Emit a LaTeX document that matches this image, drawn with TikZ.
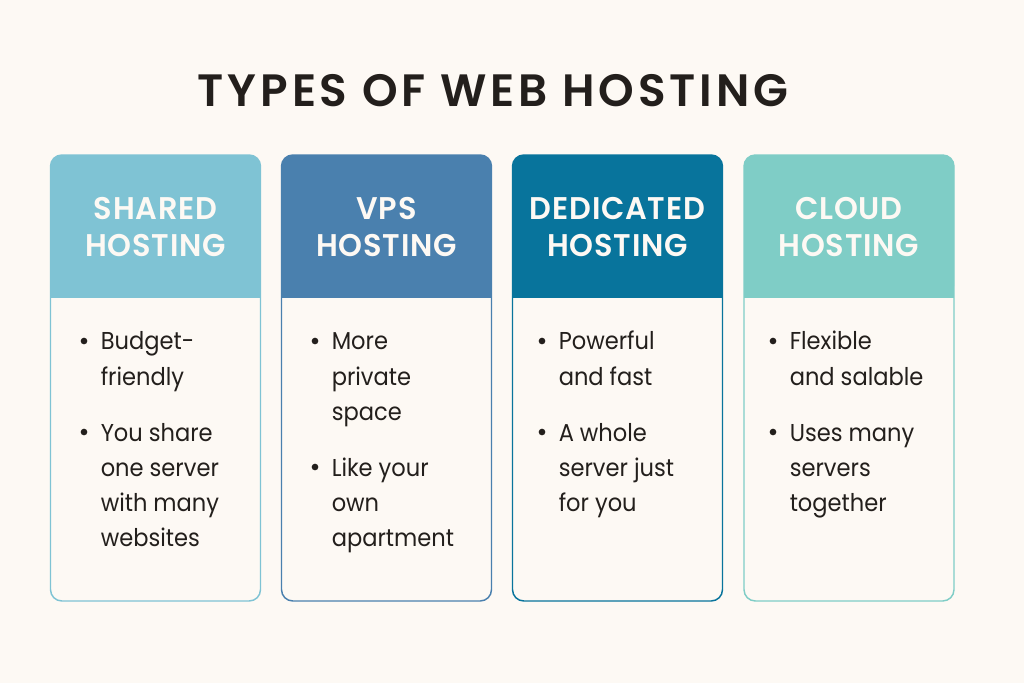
\documentclass[tikz,border=0pt]{standalone}
\usepackage{fontspec}
\setmainfont{Poppins}[FakeStretch=0.925]
\newfontfamily\headf{Poppins SemiBold}[LetterSpace=2.5,FakeStretch=0.97]
\newfontfamily\titlef{Poppins SemiBold}[LetterSpace=8.5]
\definecolor{bg}{HTML}{FDF9F4}
\definecolor{ink}{HTML}{231F1C}
\definecolor{cA}{HTML}{7FC3D4}
\definecolor{cB}{HTML}{4A80AE}
\definecolor{cC}{HTML}{08749C}
\definecolor{cD}{HTML}{7FCDC6}
\newcommand{\card}[3]{%
  \node[cardbody,draw=#2] (#3body) at (#1,378) {};
  \fill[#2,rounded corners=8.5pt] (#1-105,297.5) -- (#1-105,155) -- (#1+105,155) -- (#1+105,297.5) -- cycle;
  \fill[#2] (#1-105,285) rectangle (#1+105,297.5);
}
\newcommand{\hdline}[3]{\node[headtext] (#1) at (#2) {#3};}
\newcommand{\txline}[3]{\node[bodytext] (#1) at (#2) {#3};}
\newcommand{\blt}[2]{\node[dotm] (#1) at (#2) {};}
\tikzset{
  cardbody/.style={rectangle,rounded corners=8.5pt,line width=1.1pt,fill=bg,minimum width=157.5pt,minimum height=334.5pt,inner sep=0pt,outer sep=0pt},
  headtext/.style={text=bg,font=\headf\fontsize{23.5}{26}\selectfont,anchor=base,inner sep=0pt},
  bodytext/.style={text=ink,font=\fontsize{18.3}{22}\selectfont,anchor=base west,inner sep=0pt},
  dotm/.style={circle,fill=ink,minimum size=5pt,inner sep=0pt},
  titletext/.style={text=ink,font=\titlef\fontsize{34}{38}\selectfont,anchor=base,inner sep=0pt}
}
\begin{document}
\begin{tikzpicture}[x=0.75pt,y=-0.75pt]
\useasboundingbox (0,0) rectangle (1024,683);
\fill[bg] (0,0) rectangle (1024,683);
\node[titletext] (title) at (493,106) {TYPES OF WEB HOSTING};
\card{155.5}{cA}{a}
\card{386.5}{cB}{b}
\card{617.5}{cC}{c}
\card{849}{cD}{d}
\hdline{a1}{155.5,219}{SHARED}\hdline{a2}{155.5,256}{HOSTING}
\hdline{b1}{386.5,219}{VPS}\hdline{b2}{386.5,256}{HOSTING}
\hdline{c1}{617.5,219}{DEDICATED}\hdline{c2}{617.5,256}{HOSTING}
\hdline{d1}{849,219}{CLOUD}\hdline{d2}{849,256}{HOSTING}
\blt{ad1}{84,341}\txline{al1}{100.5,349.5}{Budget-}\txline{al2}{100.5,385}{friendly}
\blt{ad2}{84,432}\txline{al3}{100.5,441}{You share}\txline{al4}{100.5,476}{one server}\txline{al5}{100.5,511}{with many}\txline{al6}{100.5,546}{websites}
\blt{bd1}{315,341}\txline{bl1}{331.5,349.5}{More}\txline{bl2}{331.5,385}{private}\txline{bl3}{331.5,420}{space}
\blt{bd2}{315,467}\txline{bl4}{331.5,476}{Like your}\txline{bl5}{331.5,511}{own}\txline{bl6}{331.5,546}{apartment}
\blt{cd1}{542,341}\txline{cl1}{558.5,349.5}{Powerful}\txline{cl2}{558.5,385}{and fast}
\blt{cd2}{542,432}\txline{cl3}{558.5,441}{A whole}\txline{cl4}{558.5,476}{server just}\txline{cl5}{558.5,511}{for you}
\blt{dd1}{773,341}\txline{dl1}{789.5,349.5}{Flexible}\txline{dl2}{789.5,385}{and salable}
\blt{dd2}{773,432}\txline{dl3}{789.5,441}{Uses many}\txline{dl4}{789.5,476}{servers}\txline{dl5}{789.5,511}{together}
\end{tikzpicture}
\end{document}
